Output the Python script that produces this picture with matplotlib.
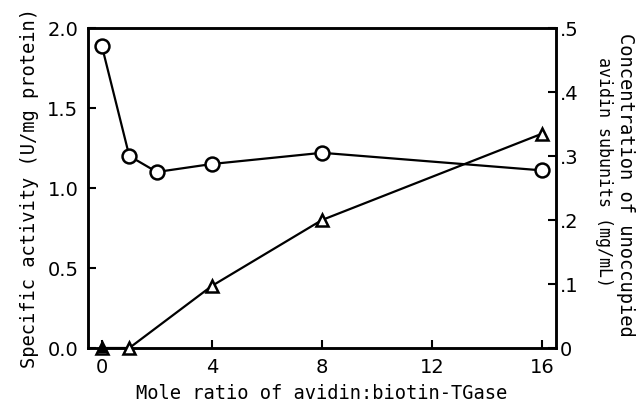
import matplotlib
matplotlib.use("Agg")
import matplotlib.pyplot as plt

# specific activity (left axis)
ratio_act = [0, 1, 2, 4, 8, 16]
activity = [1.89, 1.20, 1.10, 1.15, 1.22, 1.11]

# unoccupied avidin subunits (right axis)
ratio_conc = [0, 1, 4, 8, 16]
conc = [0.0, 0.0, 0.097, 0.20, 0.335]

mono = "DejaVu Sans Mono"

fig = plt.figure(figsize=(6.41, 4.03), dpi=100)
ax = fig.add_axes([88/641, 1-348/403, (556-88)/641, (348-28)/403])
ax2 = ax.twinx()

ax.plot(ratio_act, activity, '-', color='black', lw=1.6, marker='o', ms=10,
        mfc='white', mec='black', mew=1.8, clip_on=False, zorder=3)
ax2.plot(ratio_conc, conc, '-', color='black', lw=1.6, marker='^', ms=9,
         mfc='white', mec='black', mew=1.8, clip_on=False, zorder=3)
ax2.plot(ratio_conc[0], conc[0], '^', color='black', ms=6, clip_on=False, zorder=4)

ax.set_xlim(-0.5, 16.5)
ax.set_ylim(0, 2.0)
ax2.set_ylim(0, 0.5)
ax.set_xticks([0, 4, 8, 12, 16])
ax.set_yticks([0, 0.5, 1.0, 1.5, 2.0])
ax.set_yticklabels(['0.0', '0.5', '1.0', '1.5', '2.0'])
ax2.set_yticks([0, 0.1, 0.2, 0.3, 0.4, 0.5])
ax2.set_yticklabels(['0', '.1', '.2', '.3', '.4', '.5'])

for a in (ax, ax2):
    a.tick_params(direction='in', length=6, width=1.5, labelsize=14)
    for s in a.spines.values():
        s.set_linewidth(1.8)
ax.tick_params(axis='x', pad=7)
ax.tick_params(axis='y', pad=7)
ax2.tick_params(axis='y', pad=3)

ax.set_xlabel("Mole ratio of avidin:biotin-TGase", fontsize=13.5, family=mono, labelpad=5)
ax.set_ylabel("Specific activity (U/mg protein)", fontsize=13.5, family=mono, labelpad=6)

# right axis title, two lines placed separately
fig.text(625/641, 1-33/403, "Concentration of unoccupied", fontsize=13.5, family=mono,
         rotation=270, ha='center', va='top')
fig.text(604/641, 1-57/403, "avidin subunits (mg/mL)", fontsize=12, family=mono,
         rotation=270, ha='center', va='top')

fig.savefig("out.png", dpi=100)
